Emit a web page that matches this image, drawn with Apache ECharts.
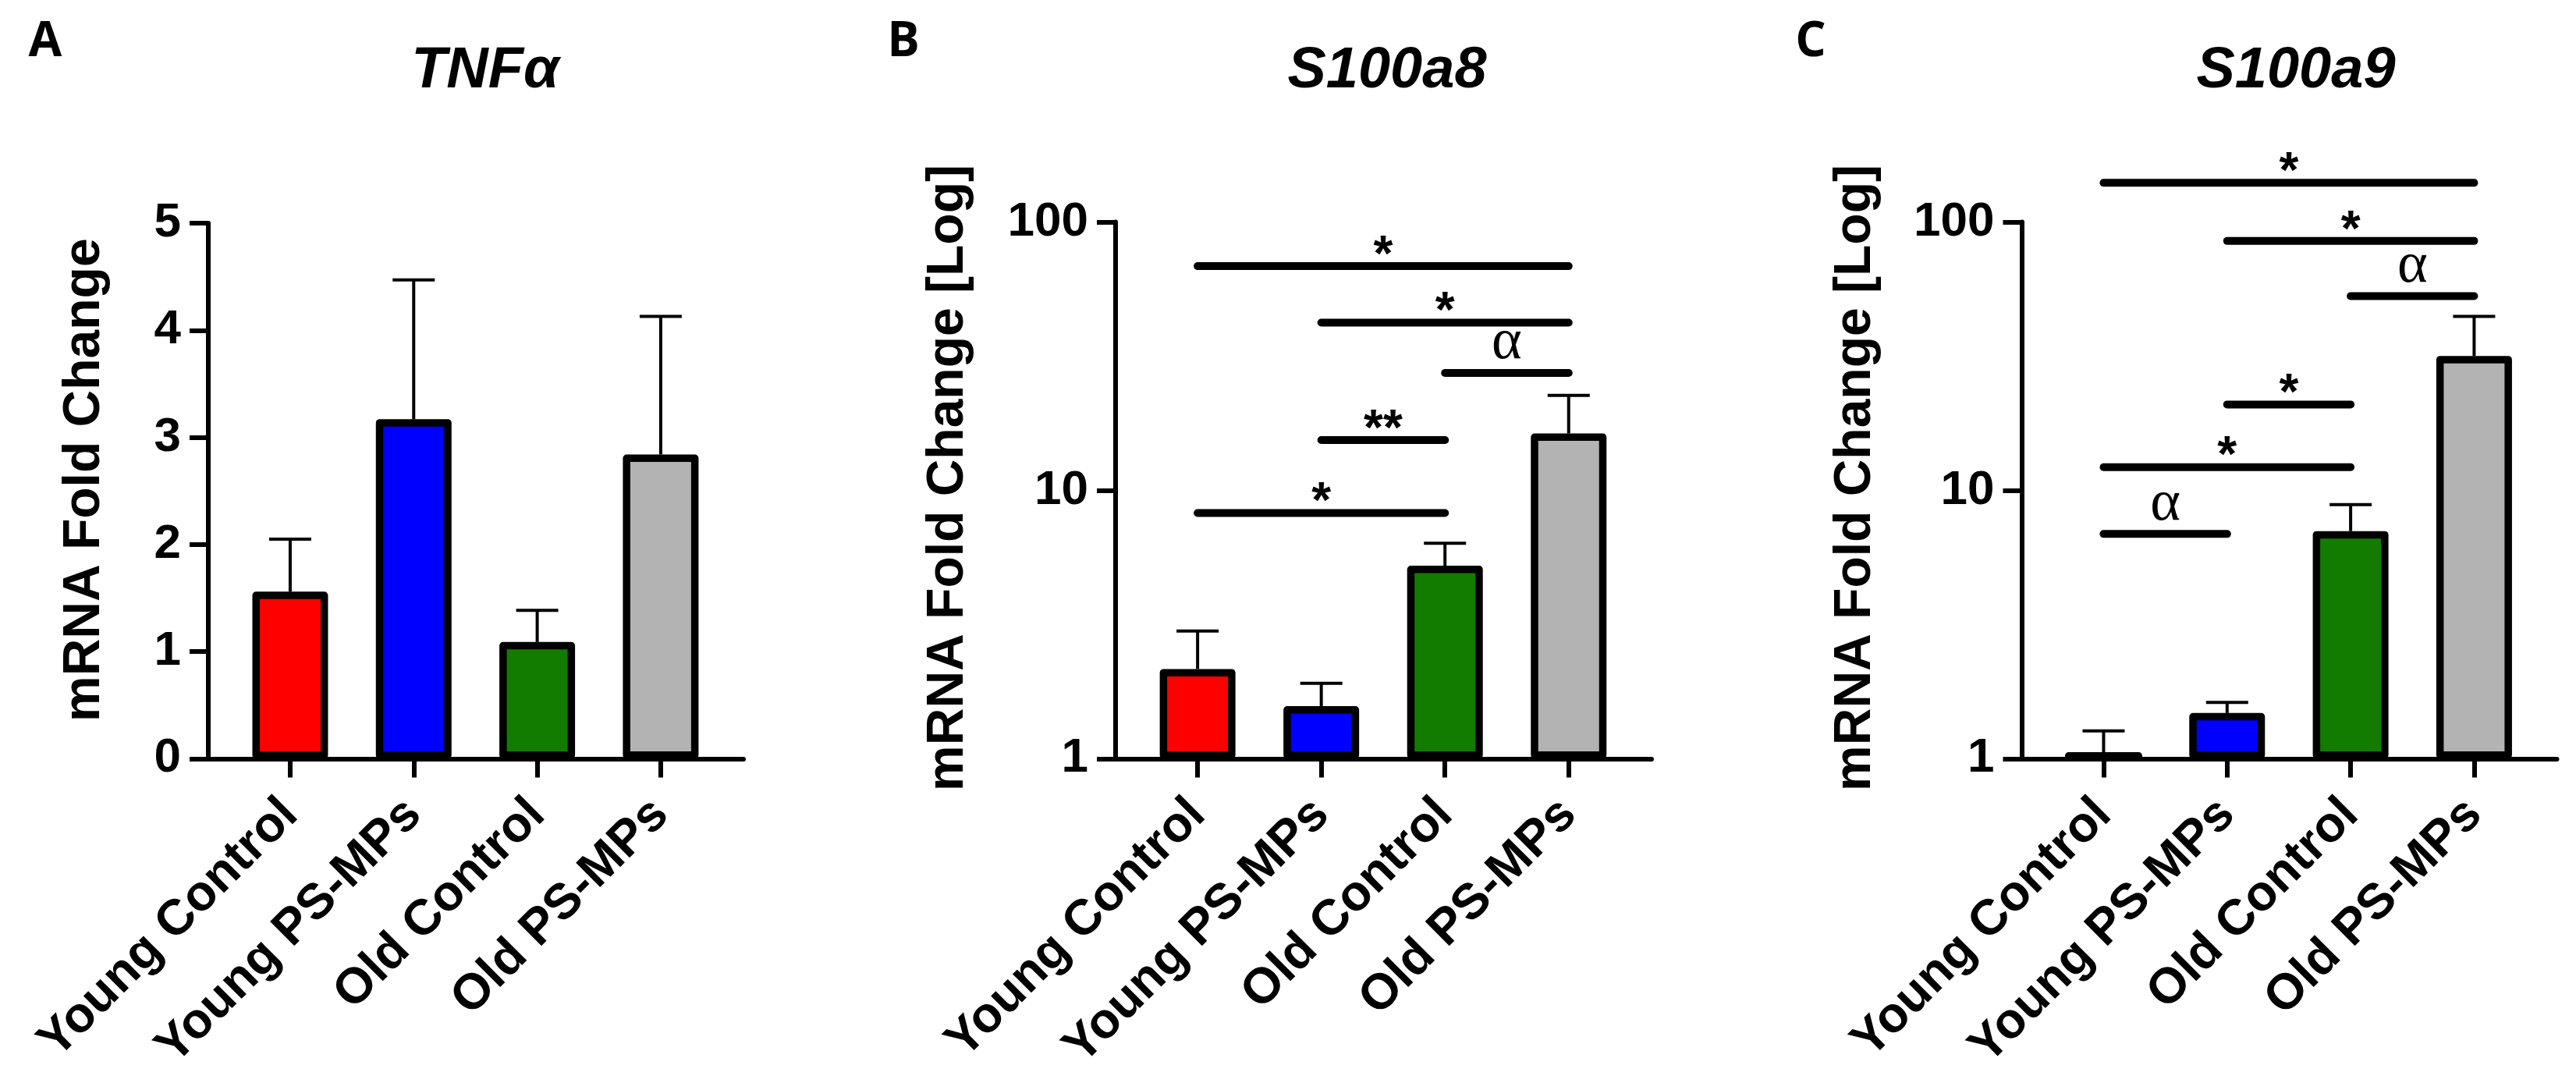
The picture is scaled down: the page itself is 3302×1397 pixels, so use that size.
<!DOCTYPE html>
<html>
<head>
<meta charset="utf-8">
<script src="https://cdn.jsdelivr.net/npm/echarts@6/dist/echarts.min.js"></script>
<style>
html,body{margin:0;padding:0;background:#fff;}
#chart{width:3302px;height:1397px;}
</style>
</head>
<body>
<div id="chart"></div>
<script>
// ---------------- data ----------------
const categories = ['Young Control', 'Young PS-MPs', 'Old Control', 'Old PS-MPs'];
const barColors = ['#FF0000', '#0000FF', '#127C00', '#B3B3B3'];

const tnfMean = [1.56, 3.17, 1.09, 2.84];
const tnfSem  = [0.49, 1.30, 0.295, 1.29];

const s8Mean = [2.16, 1.57, 5.24, 16.3];
const s8Sem  = [0.83, 0.34, 1.11, 6.3];

const s9Mean = [1.05, 1.48, 7.05, 31.7];
const s9Sem  = [0.22, 0.14, 1.80, 12.8];

const s8SigFrom = [0, 1, 2, 1, 0];
const s8SigTo   = [3, 3, 3, 2, 2];
const s8SigY    = [68.5, 42.2, 27.4, 15.4, 8.24];
const s8SigText = ['*', '*', 'α', '**', '*'];

const s9SigFrom = [0, 1, 2, 1, 0, 0];
const s9SigTo   = [3, 3, 3, 2, 2, 1];
const s9SigY    = [140, 85, 53, 20.9, 12.2, 6.88];
const s9SigText = ['*', '*', 'α', '*', '*', 'α'];

const panelTitles = ['TNFα', 'S100a8', 'S100a9'];
const panelLetters = ['A', 'B', 'C'];
const yNames = ['mRNA Fold Change', 'mRNA Fold Change [Log]', 'mRNA Fold Change [Log]'];
const linTicks = [0, 1, 2, 3, 4, 5];

// ---------------- layout / style ----------------
const FONT = 'Liberation Sans';
const grids = [
  { left: 267, top: 286, width: 686, height: 686.4 },
  { left: 1430, top: 284.6, width: 687, height: 687.8 },
  { left: 2591.5, top: 284.6, width: 686, height: 687.8 }
];
const titleX = [617, 1773, 2938];
const letterX = [53, 1153, 2316];
const nameGaps = [125, 181, 180];
const namePad = [28, 32, 32];
const X_MIN = -0.663, X_MAX = 3.67;

function xAxisFor(i) {
  return {
    type: 'value', gridIndex: i, min: X_MIN, max: X_MAX,
    splitLine: { show: false },
    axisLine: { show: true, onZero: false, lineStyle: { color: '#000', width: 6 } },
    axisTick: { show: true, customValues: [0, 1, 2, 3], length: 24, lineStyle: { color: '#000', width: 6 } },
    axisLabel: {
      show: true, customValues: [0, 1, 2, 3], rotate: 45, margin: 62,
      formatter: v => categories[Math.round(v)],
      fontFamily: FONT, fontWeight: 'bold', fontSize: 64, color: '#000'
    }
  };
}

function yAxisFor(i) {
  const base = {
    gridIndex: i,
    name: yNames[i], nameLocation: 'middle', nameGap: nameGaps[i], nameRotate: 90,
    nameTextStyle: { fontFamily: FONT, fontWeight: 'bold', fontSize: 66, color: '#000', padding: [0, 0, 0, namePad[i]] },
    splitLine: { show: false },
    axisLine: { show: true, onZero: false, lineStyle: { color: '#000', width: 6 } },
    axisTick: { show: true, length: 24, lineStyle: { color: '#000', width: 6 } },
    axisLabel: { margin: 35, fontFamily: FONT, fontWeight: 'bold', fontSize: 62, color: '#000' },
    minorTick: { show: false }
  };
  if (i === 0) {
    return Object.assign(base, { type: 'value', min: linTicks[0], max: linTicks[linTicks.length - 1], interval: 1 });
  }
  return Object.assign(base, { type: 'log', logBase: 10, min: 1, max: 100 });
}

function barSeries(i, mean) {
  return {
    type: 'bar', xAxisIndex: i, yAxisIndex: i, z: 3,
    barWidth: 97,
    data: mean.map((m, k) => ({ value: [k, m], itemStyle: { color: barColors[k] } })),
    itemStyle: { borderColor: '#000', borderWidth: 9.5, borderJoin: 'round' },
    emphasis: { disabled: true },
    silent: true
  };
}

function errSeries(i, mean, sem) {
  return {
    type: 'custom', xAxisIndex: i, yAxisIndex: i, z: 2, silent: true,
    data: mean.map((m, k) => [k, m, m + sem[k]]),
    encode: { x: 0, y: [1, 2] },
    renderItem: function (params, api) {
      const p0 = api.coord([api.value(0), api.value(1)]);
      const p1 = api.coord([api.value(0), api.value(2)]);
      const cap = 27;
      return {
        type: 'group',
        children: [
          { type: 'line', shape: { x1: p0[0], y1: p0[1], x2: p1[0], y2: p1[1] }, style: { stroke: '#000', lineWidth: 4 } },
          { type: 'line', shape: { x1: p1[0] - cap, y1: p1[1], x2: p1[0] + cap, y2: p1[1] }, style: { stroke: '#000', lineWidth: 4 } }
        ]
      };
    }
  };
}

function sigSeries(i, from, to, yv, texts) {
  return {
    type: 'custom', xAxisIndex: i, yAxisIndex: i, z: 4, silent: true, clip: false,
    data: from.map((f, k) => [f, to[k], yv[k]]),
    encode: { x: [0, 1], y: 2 },
    renderItem: function (params, api) {
      const a = api.coord([api.value(0), api.value(2)]);
      const b = api.coord([api.value(1), api.value(2)]);
      const t = texts[params.dataIndex];
      const isAlpha = t === 'α';
      return {
        type: 'group',
        children: [
          { type: 'line', shape: { x1: a[0], y1: a[1], x2: b[0], y2: b[1] }, style: { stroke: '#000', lineWidth: 10, lineCap: 'round' } },
          {
            type: 'text', x: (a[0] + b[0]) / 2, y: a[1] - (isAlpha ? 38 : 12),
            style: {
              text: t, fill: '#000', align: 'center', verticalAlign: 'middle',
              font: isAlpha ? 'normal 74px "Liberation Serif"' : 'bold 64px "Liberation Sans"'
            }
          }
        ]
      };
    }
  };
}

const titles = [];
for (let i = 0; i < 3; i++) {
  titles.push({
    text: panelTitles[i], left: titleX[i], top: 50, textAlign: 'center',
    textStyle: { fontFamily: FONT, fontWeight: 'bold', fontStyle: 'italic', fontSize: 74, color: '#000' }
  });
  titles.push({
    text: panelLetters[i], left: letterX[i], top: 18, textAlign: 'center',
    textStyle: { fontFamily: 'Open Sans', fontWeight: 'bold', fontSize: 62, color: '#000' }
  });
}

const option = {
  backgroundColor: '#fff',
  animation: false,
  title: titles,
  grid: grids.map(g => Object.assign({ containLabel: false, outerBoundsMode: 'none' }, g)),
  xAxis: [0, 1, 2].map(xAxisFor),
  yAxis: [0, 1, 2].map(yAxisFor),
  series: [
    errSeries(0, tnfMean, tnfSem), barSeries(0, tnfMean),
    errSeries(1, s8Mean, s8Sem), barSeries(1, s8Mean), sigSeries(1, s8SigFrom, s8SigTo, s8SigY, s8SigText),
    errSeries(2, s9Mean, s9Sem), barSeries(2, s9Mean), sigSeries(2, s9SigFrom, s9SigTo, s9SigY, s9SigText)
  ]
};

const chart = echarts.init(document.getElementById('chart'), null, { renderer: 'canvas' });
chart.setOption(option);
</script>
</body>
</html>
